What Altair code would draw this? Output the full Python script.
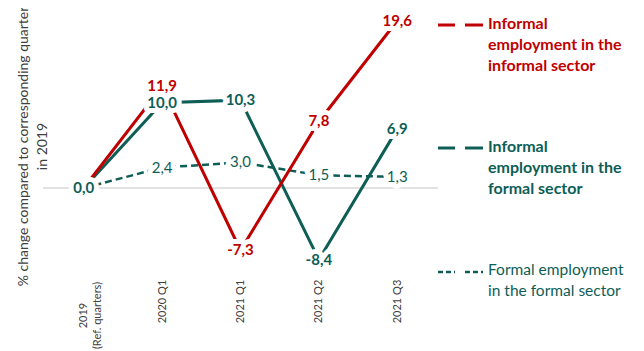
import altair as alt
import pandas as pd

categories = ["2019|(Ref. quarters)", "2020 Q1", "2021 Q1", "2021 Q2", "2021 Q3"]
informal_informal = [0.0, 11.9, -7.3, 7.8, 19.6]
informal_formal = [0.0, 10.0, 10.3, -8.4, 6.9]
formal_formal = [0.0, 2.4, 3.0, 1.5, 1.3]
series_names = [
    "Informal\nemployment in the\ninformal sector",
    "Informal\nemployment in the\nformal sector",
    "Formal employment\nin the formal sector",
]

RED = "#C00000"
GREEN = "#0E5E56"
FONT = "Lato"
W, H = 395, 267


def fmt(v):
    return f"{v:.1f}".replace(".", ",")


def frame(vals, show_first):
    df = pd.DataFrame({"cat": categories, "val": vals})
    df["lab"] = [fmt(v) for v in vals]
    df["show"] = [show_first or i > 0 for i in range(len(vals))]
    return df


d_ii = frame(informal_informal, False)
d_if = frame(informal_formal, True)
d_ff = frame(formal_formal, False)

first_cat = categories[0]
xenc = alt.X(
    "cat:N",
    sort=categories,
    scale=alt.Scale(type="point", padding=0.52),
    axis=alt.Axis(
        title=None, labelAngle=-90, labelAlign="center", labelBaseline="middle",
        labelExpr="split(datum.label, '|')", labelFont=FONT, labelFontSize=11,
        labelColor="#404040", labelLineHeight=14,
        labelPadding=alt.condition(f"datum.value == '{first_cat}'", alt.value(40), alt.value(26)),
        domain=False, ticks=False, grid=False,
    ),
)
yscale = alt.Scale(domain=[-10.2, 21.1], nice=False, zero=False)
yenc = alt.Y(
    "val:Q", scale=yscale,
    axis=alt.Axis(
        title=["% change compared to corresponding quarter", "in  2019"],
        labels=False, ticks=False, domain=False, grid=False,
        titleFont=FONT, titleFontSize=14, titleFontWeight="normal", titleColor="#404040",
        titleLineHeight=19, titleX=-13, titleY=138, titleBaseline="bottom", titleAngle=-90,
        titleAlign="center",
    ),
)
yplain = alt.Y("val:Q", scale=yscale)

zero = alt.Chart(pd.DataFrame({"val": [0.0]})).mark_rule(color="#D9D9D9", strokeWidth=1.5).encode(
    y=yenc, x=alt.value(0), x2=alt.value(W)
)

line_ff = alt.Chart(d_ff).mark_line(color=GREEN, strokeWidth=2.5, strokeDash=[7, 4]).encode(x=xenc, y=yplain)
line_if = alt.Chart(d_if).mark_line(color=GREEN, strokeWidth=3).encode(x=xenc, y=yplain)
line_ii = alt.Chart(d_ii).mark_line(color=RED, strokeWidth=3).encode(x=xenc, y=yplain)


def labels(df, color, weight):
    base = alt.Chart(df).transform_filter("datum.show").encode(x=xenc, y=yplain, text="lab:N")
    halo = base.mark_text(font=FONT, fontSize=15, fontWeight=weight, color="white",
                          stroke="white", strokeWidth=10, strokeJoin="round")
    txt = base.mark_text(font=FONT, fontSize=15, fontWeight=weight, color=color)
    return halo, txt


h1, t1 = labels(d_ii, RED, "bold")
h2, t2 = labels(d_if, GREEN, "bold")
h3, t3 = labels(d_ff, GREEN, "normal")

one = pd.DataFrame({"a": [0]})


def legend_entry(name, color, weight, y, size, dash=None):
    kw = dict(color=color, strokeWidth=3)
    if dash:
        kw = dict(color=color, strokeWidth=2.5, strokeDash=dash)
    s1 = alt.Chart(one).mark_rule(**kw).encode(x=alt.value(395), x2=alt.value(412), y=alt.value(y))
    s2 = alt.Chart(one).mark_rule(**kw).encode(x=alt.value(422), x2=alt.value(440), y=alt.value(y))
    txt = alt.Chart(one).mark_text(
        font=FONT, fontSize=size, fontWeight=weight, color=color, align="left",
        baseline="top", lineBreak="\n", lineHeight=21,
    ).encode(x=alt.value(445), y=alt.value(y - 9), text=alt.value(name))
    return [s1, s2, txt]


leg = (
    legend_entry(series_names[0], RED, "bold", 17, 16)
    + legend_entry(series_names[1], GREEN, "bold", 140, 16)
    + legend_entry(series_names[2], GREEN, "normal", 264, 15.5, dash=[5, 3])
)

chart = alt.layer(
    zero, line_ff, line_if, line_ii, h1, h2, h3, t1, t2, t3, *leg
).properties(
    width=W, height=H,
    autosize=alt.AutoSizeParams(type="none"),
    padding={"left": 35, "top": 0, "right": 198, "bottom": 76},
).configure_view(stroke=None)

chart.save("out.html", embed_options={"renderer": "svg", "actions": False})
